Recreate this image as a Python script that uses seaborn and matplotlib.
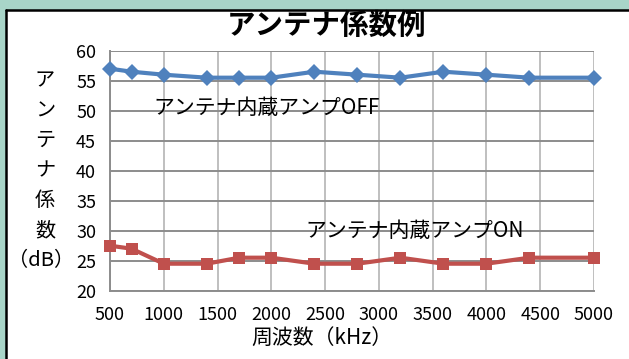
import matplotlib
matplotlib.use("Agg")
import matplotlib.pyplot as plt
import matplotlib.transforms as mtransforms
import seaborn as sns
import pandas as pd
from matplotlib.patches import Rectangle
from matplotlib.lines import Line2D

freq_khz = [500, 700, 1000, 1400, 1700, 2000, 2400, 2800, 3200, 3600, 4000, 4400, 5000]
amp_off = [57, 56.5, 56, 55.5, 55.5, 55.5, 56.5, 56, 55.5, 56.5, 56, 55.5, 55.5]
amp_on = [27.5, 27, 24.5, 24.5, 25.5, 25.5, 24.5, 24.5, 25.5, 24.5, 24.5, 25.5, 25.5]
series_names = ["アンテナ内蔵アンプOFF", "アンテナ内蔵アンプON"]
title = "アンテナ係数例"
xlabel = "周波数（kHz）"
ylabel_chars = ["ア", "ン", "テ", "ナ", "係", "数", "（dB）"]
yticks = [20, 25, 30, 35, 40, 45, 50, 55, 60]
xticks = [500, 1000, 1500, 2000, 2500, 3000, 3500, 4000, 4500, 5000]

sns.set_theme(style="white")
plt.rcParams["font.family"] = ["Noto Sans CJK JP", "DejaVu Sans"]
plt.rcParams["text.color"] = "black"

W, H = 629, 359
fig = plt.figure(figsize=(W / 100, H / 100), dpi=100, facecolor="white",
                 edgecolor="white", linewidth=0)
teal = "#A8D5C8"
# teal strips on top and left, black border of the white chart area
fig.patches.append(Rectangle((0, 1 - 10 / H), 1, 10 / H, transform=fig.transFigure,
                             facecolor=teal, edgecolor="none", zorder=-5))
fig.patches.append(Rectangle((0, 0), 6 / W, 1, transform=fig.transFigure,
                             facecolor=teal, edgecolor="none", zorder=-5))
fig.lines.append(Line2D([6 / W, 6 / W], [0, 1 - 10 / H], transform=fig.transFigure,
                        color="black", linewidth=1.8, zorder=-4))
fig.lines.append(Line2D([6 / W, 1], [1 - 10 / H, 1 - 10 / H], transform=fig.transFigure,
                        color="black", linewidth=1.8, zorder=-4))

ax = fig.add_axes([110 / W, 1 - 290.7 / H, (594 - 110) / W, (290.7 - 50.7) / H])
ax.set_facecolor("none")
ax.patch.set_alpha(0)

df = pd.DataFrame({
    "freq": freq_khz * 2,
    "val": amp_off + amp_on,
    "series": [series_names[0]] * len(freq_khz) + [series_names[1]] * len(freq_khz),
})
palette = {series_names[0]: "#4F81BD", series_names[1]: "#C0504D"}
sns.lineplot(data=df, x="freq", y="val", hue="series", style="series",
             markers={series_names[0]: "D", series_names[1]: "s"},
             dashes=False, palette=palette, linewidth=3.0, markersize=8,
             markeredgewidth=0, legend=False, ax=ax, zorder=3, clip_on=False)

ax.set_xlim(500, 5000)
ax.set_ylim(20, 60)
ax.set_xticks(xticks)
ax.set_yticks(yticks)
ax.set_xlabel("")
ax.set_ylabel("")
ax.grid(False)
for yv in yticks:
    ax.axhline(yv, color="#8C8C8C", linewidth=1.4, zorder=1)
for xv in xticks:
    ax.axvline(xv, color="#BFBFBF", linewidth=1.4, zorder=0.9)
for s in ["top", "right"]:
    ax.spines[s].set_visible(False)
for s in ["left", "bottom"]:
    ax.spines[s].set_color("#8C8C8C")
    ax.spines[s].set_linewidth(1.4)
ax.tick_params(axis="both", direction="out", length=5, width=1.2, color="#8C8C8C",
               labelsize=13, labelcolor="black")
ax.tick_params(axis="y", pad=5)
ax.tick_params(axis="x", pad=6)

ax.text(900, 50.5, series_names[0], fontsize=15, ha="left", va="center", zorder=4)
ax.text(2313, 30, series_names[1], fontsize=15, ha="left", va="center", zorder=4)

fig.text(327 / W, 1 - 26 / H, title, fontsize=20.5, fontweight="bold",
         ha="center", va="center")
fig.text(321.5 / W, 1 - 338 / H, xlabel, fontsize=15, ha="center", va="center")

trans = mtransforms.blended_transform_factory(fig.transFigure, ax.transData)
for ch, yv in zip(ylabel_chars, [55, 50, 45, 40, 35, 30, 25]):
    xpos = 45 / W if len(ch) == 1 else 41 / W
    ax.text(xpos, yv, ch, transform=trans, fontsize=14.5, ha="center", va="center")

fig.savefig("out.png", dpi=100, facecolor="white")
